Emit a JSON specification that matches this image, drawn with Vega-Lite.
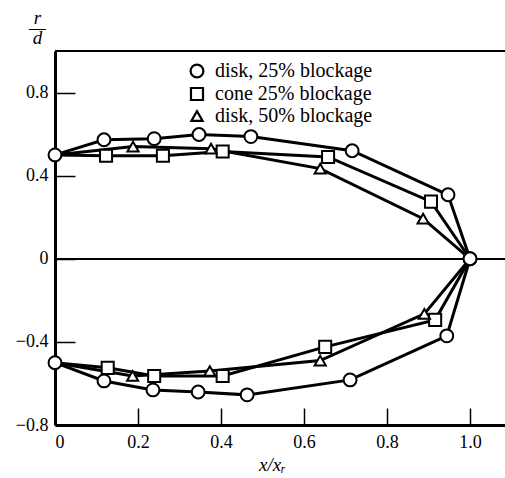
{
  "$schema": "https://vega.github.io/schema/vega-lite/v6.json",
  "autosize": "none",
  "width": 450,
  "height": 374,
  "padding": {"left": 55, "top": 51, "right": 0, "bottom": 53},
  "background": "white",
  "config": {
    "view": {"stroke": null},
    "font": "Liberation Serif",
    "axis": {
      "labelFont": "Liberation Serif",
      "labelFontSize": 18,
      "labelColor": "black",
      "tickColor": "black",
      "domainColor": "black",
      "grid": false,
      "titleFont": "Liberation Serif",
      "titleFontStyle": "italic",
      "titleFontWeight": "normal",
      "titleFontSize": 19,
      "titleColor": "black"
    }
  },
  "datasets": {
    "profile": [
      {"series": "cone 25% blockage", "branch": "upper", "x": 0, "y": 0.5},
      {"series": "cone 25% blockage", "branch": "upper", "x": 0.123, "y": 0.496},
      {"series": "cone 25% blockage", "branch": "upper", "x": 0.26, "y": 0.496},
      {"series": "cone 25% blockage", "branch": "upper", "x": 0.404, "y": 0.516},
      {"series": "cone 25% blockage", "branch": "upper", "x": 0.658, "y": 0.49},
      {"series": "cone 25% blockage", "branch": "upper", "x": 0.906, "y": 0.275},
      {"series": "cone 25% blockage", "branch": "upper", "x": 1, "y": 0},
      {"series": "cone 25% blockage", "branch": "lower", "x": 0, "y": -0.5},
      {"series": "cone 25% blockage", "branch": "lower", "x": 0.127, "y": -0.525},
      {"series": "cone 25% blockage", "branch": "lower", "x": 0.239, "y": -0.564},
      {"series": "cone 25% blockage", "branch": "lower", "x": 0.404, "y": -0.564},
      {"series": "cone 25% blockage", "branch": "lower", "x": 0.651, "y": -0.424},
      {"series": "cone 25% blockage", "branch": "lower", "x": 0.916, "y": -0.294},
      {"series": "cone 25% blockage", "branch": "lower", "x": 1, "y": 0},
      {"series": "disk, 50% blockage", "branch": "upper", "x": 0, "y": 0.5},
      {"series": "disk, 50% blockage", "branch": "upper", "x": 0.188, "y": 0.54},
      {"series": "disk, 50% blockage", "branch": "upper", "x": 0.376, "y": 0.53},
      {"series": "disk, 50% blockage", "branch": "upper", "x": 0.639, "y": 0.434},
      {"series": "disk, 50% blockage", "branch": "upper", "x": 0.887, "y": 0.193},
      {"series": "disk, 50% blockage", "branch": "upper", "x": 1, "y": 0},
      {"series": "disk, 50% blockage", "branch": "lower", "x": 0, "y": -0.5},
      {"series": "disk, 50% blockage", "branch": "lower", "x": 0.187, "y": -0.564},
      {"series": "disk, 50% blockage", "branch": "lower", "x": 0.373, "y": -0.54},
      {"series": "disk, 50% blockage", "branch": "lower", "x": 0.639, "y": -0.49},
      {"series": "disk, 50% blockage", "branch": "lower", "x": 0.89, "y": -0.265},
      {"series": "disk, 50% blockage", "branch": "lower", "x": 1, "y": 0},
      {"series": "disk, 25% blockage", "branch": "upper", "x": 0, "y": 0.5},
      {"series": "disk, 25% blockage", "branch": "upper", "x": 0.118, "y": 0.573},
      {"series": "disk, 25% blockage", "branch": "upper", "x": 0.239, "y": 0.578},
      {"series": "disk, 25% blockage", "branch": "upper", "x": 0.347, "y": 0.598},
      {"series": "disk, 25% blockage", "branch": "upper", "x": 0.472, "y": 0.588},
      {"series": "disk, 25% blockage", "branch": "upper", "x": 0.716, "y": 0.52},
      {"series": "disk, 25% blockage", "branch": "upper", "x": 0.947, "y": 0.308},
      {"series": "disk, 25% blockage", "branch": "upper", "x": 1, "y": 0},
      {"series": "disk, 25% blockage", "branch": "lower", "x": 0, "y": -0.5},
      {"series": "disk, 25% blockage", "branch": "lower", "x": 0.118, "y": -0.588},
      {"series": "disk, 25% blockage", "branch": "lower", "x": 0.236, "y": -0.631},
      {"series": "disk, 25% blockage", "branch": "lower", "x": 0.345, "y": -0.641},
      {"series": "disk, 25% blockage", "branch": "lower", "x": 0.463, "y": -0.655},
      {"series": "disk, 25% blockage", "branch": "lower", "x": 0.711, "y": -0.583},
      {"series": "disk, 25% blockage", "branch": "lower", "x": 0.944, "y": -0.371},
      {"series": "disk, 25% blockage", "branch": "lower", "x": 1, "y": 0}
    ]
  },
  "data": {"name": "profile"},
  "layer": [
    {
      "mark": {"type": "rule", "color": "black", "strokeWidth": 1.3},
      "encoding": {"y": {"datum": 0, "type": "quantitative"}}
    },
    {
      "mark": {"type": "rule", "color": "black", "strokeWidth": 1.5},
      "encoding": {"y": {"datum": 1.0, "type": "quantitative"}}
    },
    {
      "mark": {"type": "line", "color": "black", "strokeWidth": 3},
      "encoding": {
        "x": {
          "field": "x", "type": "quantitative",
          "scale": {"domain": [0, 1.0843], "nice": false, "zero": false},
          "axis": {
            "title": "x/xᵣ",
            "values": [0, 0.2, 0.4, 0.6, 0.8, 1.0],
            "format": ".1f",
            "labelExpr": "datum.value == 0 ? '0' : datum.label",
            "tickSize": -17, "tickWidth": 1.5,
            "labelPadding": 25,
            "domainWidth": 3,
            "titleX": 217, "titleY": 39, "titleBaseline": "middle",
            "titleAnchor": null
          }
        },
        "y": {
          "field": "y", "type": "quantitative",
          "scale": {"domain": [-0.8, 1.0], "nice": false, "zero": false},
          "axis": {
            "title": ["r", "—", "d"],
            "values": [-0.8, -0.4, 0, 0.4, 0.8],
            "labelExpr": "datum.value == 0 ? '0' : datum.label",
            "format": ".1f",
            "tickSize": -20, "tickWidth": 1.5,
            "labelPadding": 27,
            "domainWidth": 3,
            "titleAngle": 0,
            "titleAlign": "center",
            "titleBaseline": "alphabetic",
            "titleLineHeight": 10,
            "titleX": -18, "titleY": -28
          }
        },
        "detail": [{"field": "series"}, {"field": "branch"}]
      }
    },
    {
      "transform": [
        {"filter": "datum.series == 'disk, 25% blockage' || (datum.x > 0 && datum.x < 1)"}
      ],
      "mark": {"type": "point", "filled": true, "fill": "white", "stroke": "black", "strokeWidth": 2, "opacity": 1},
      "encoding": {
        "x": {"field": "x", "type": "quantitative"},
        "y": {"field": "y", "type": "quantitative"},
        "shape": {
          "field": "series", "type": "nominal",
          "scale": {
            "domain": ["disk, 25% blockage", "cone 25% blockage", "disk, 50% blockage"],
            "range": ["circle", "square", "triangle-up"]
          },
          "legend": {
            "title": null,
            "orient": "none",
            "legendX": 132,
            "legendY": 10,
            "padding": 0,
            "rowPadding": 1,
            "labelFont": "Liberation Serif",
            "labelFontSize": 20,
            "labelColor": "black",
            "labelOffset": 8,
            "symbolFillColor": "white",
            "symbolStrokeColor": "black",
            "symbolStrokeWidth": 2.2
          }
        },
        "size": {
          "field": "series", "type": "nominal",
          "scale": {
            "domain": ["disk, 25% blockage", "cone 25% blockage", "disk, 50% blockage"],
            "range": [165, 125, 90]
          }
        }
      }
    }
  ]
}
